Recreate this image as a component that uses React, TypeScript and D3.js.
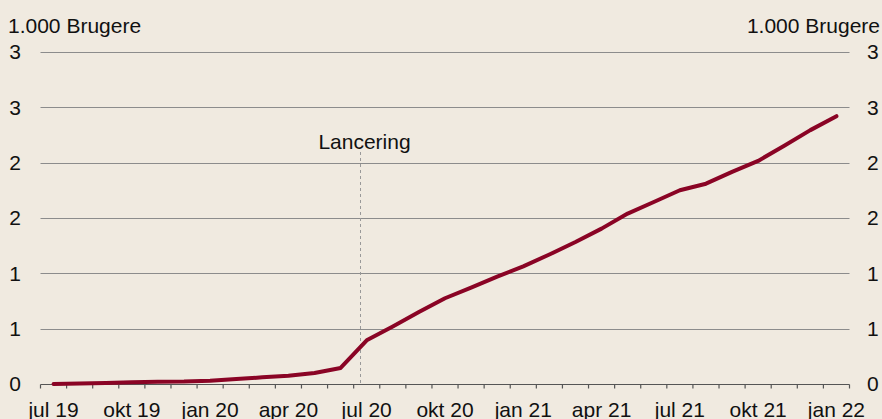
import React, { useRef, useEffect } from "react";
import * as d3 from "d3";

// monthly categories, jul 19 .. jan 22
const months = [
  "jul 19", "aug 19", "sep 19", "okt 19", "nov 19", "dec 19",
  "jan 20", "feb 20", "mar 20", "apr 20", "maj 20", "jun 20",
  "jul 20", "aug 20", "sep 20", "okt 20", "nov 20", "dec 20",
  "jan 21", "feb 21", "mar 21", "apr 21", "maj 21", "jun 21",
  "jul 21", "aug 21", "sep 21", "okt 21", "nov 21", "dec 21",
  "jan 22",
];
// users, in thousands
const users = [
  0.0, 0.005, 0.01, 0.015, 0.02, 0.022,
  0.03, 0.045, 0.06, 0.075, 0.1, 0.145,
  0.395, 0.52, 0.65, 0.775, 0.87, 0.97,
  1.063, 1.17, 1.283, 1.404, 1.54, 1.645,
  1.751, 1.81, 1.917, 2.016, 2.152, 2.294,
  2.42,
];
const yTicks = [0, 0.5, 1, 1.5, 2, 2.5, 3];
const yTickLabels = ["0", "1", "1", "2", "2", "3", "3"];
const unitLabel = "1.000 Brugere";
const launchMonth = "jul 20";
const launchLabel = "Lancering";

const W = 882;
const H = 419;
const FONT = "'Liberation Sans', Arial, sans-serif";
const FS = 21;

const App = () => {
  const svgRef = useRef(null);

  useEffect(() => {
    const svg = d3.select(svgRef.current);
    svg.selectAll("*").remove();

    const x = d3.scaleBand().domain(months).range([40.5, 849.5]).padding(0);
    const y = d3.scaleLinear().domain([0, 3]).range([384, 52]);

    svg.append("rect").attr("width", W).attr("height", H).attr("fill", "#F0EAE0");

    // gridlines
    svg.append("g")
      .selectAll("line")
      .data(yTicks.filter(d => d > 0))
      .enter()
      .append("line")
      .attr("x1", 40.5)
      .attr("x2", 849.5)
      .attr("y1", d => Math.round(y(d)) + 0.5)
      .attr("y2", d => Math.round(y(d)) + 0.5)
      .attr("stroke", "#8c8c8c")
      .attr("stroke-width", 1);

    // y labels both sides
    const labels = svg.append("g").attr("font-family", FONT).attr("font-size", FS).attr("fill", "#111");
    yTicks.forEach((t, i) => {
      labels.append("text").attr("x", 21).attr("y", y(t)).attr("dy", "0.35em")
        .attr("text-anchor", "end").text(yTickLabels[i]);
      labels.append("text").attr("x", 867).attr("y", y(t)).attr("dy", "0.35em")
        .attr("text-anchor", "start").text(yTickLabels[i]);
    });
    labels.append("text").attr("x", 8).attr("y", 33).text(unitLabel);
    labels.append("text").attr("x", 880).attr("y", 33).attr("text-anchor", "end").text(unitLabel);

    // x axis
    const axis = svg.append("g").attr("transform", `translate(0, ${Math.round(y(0)) + 0.5})`);
    axis.append("line").attr("x1", 40.5).attr("x2", 849.5).attr("stroke", "#555").attr("stroke-width", 1.2);
    const edges = months.map(m => x(m)).concat([x(months[months.length - 1]) + x.bandwidth()]);
    axis.selectAll(".tick")
      .data(edges)
      .enter()
      .append("line")
      .attr("x1", d => d)
      .attr("x2", d => d)
      .attr("y1", 0)
      .attr("y2", 4)
      .attr("stroke", "#555")
      .attr("stroke-width", 1.2);
    axis.selectAll(".lbl")
      .data(months.filter((_, i) => i % 3 === 0))
      .enter()
      .append("text")
      .attr("x", d => x(d) + x.bandwidth() / 2)
      .attr("y", 32)
      .attr("text-anchor", "middle")
      .attr("font-family", FONT)
      .attr("font-size", FS)
      .attr("fill", "#111")
      .text(d => d);

    // launch marker
    const lx = Math.round(x(launchMonth) + x.bandwidth() * 0.25) + 0.5;
    svg.append("line")
      .attr("x1", lx).attr("x2", lx)
      .attr("y1", 152).attr("y2", y(0))
      .attr("stroke", "#999")
      .attr("stroke-width", 1)
      .attr("stroke-dasharray", "3,3");
    svg.append("text")
      .attr("x", lx + 4)
      .attr("y", 149)
      .attr("text-anchor", "middle")
      .attr("font-family", FONT)
      .attr("font-size", FS)
      .attr("fill", "#111")
      .text(launchLabel);

    // series
    const line = d3.line()
      .x((_, i) => x(months[i]) + x.bandwidth() / 2)
      .y(d => y(d));
    svg.append("path")
      .datum(users)
      .attr("d", line)
      .attr("fill", "none")
      .attr("stroke", "#8A0425")
      .attr("stroke-width", 4)
      .attr("stroke-linecap", "round")
      .attr("stroke-linejoin", "round");
  }, []);

  return (
    <svg ref={svgRef} width={W} height={H}
      style={{ position: "absolute", left: 0, top: 0, display: "block" }}>
    </svg>
  );
};

export default App;
